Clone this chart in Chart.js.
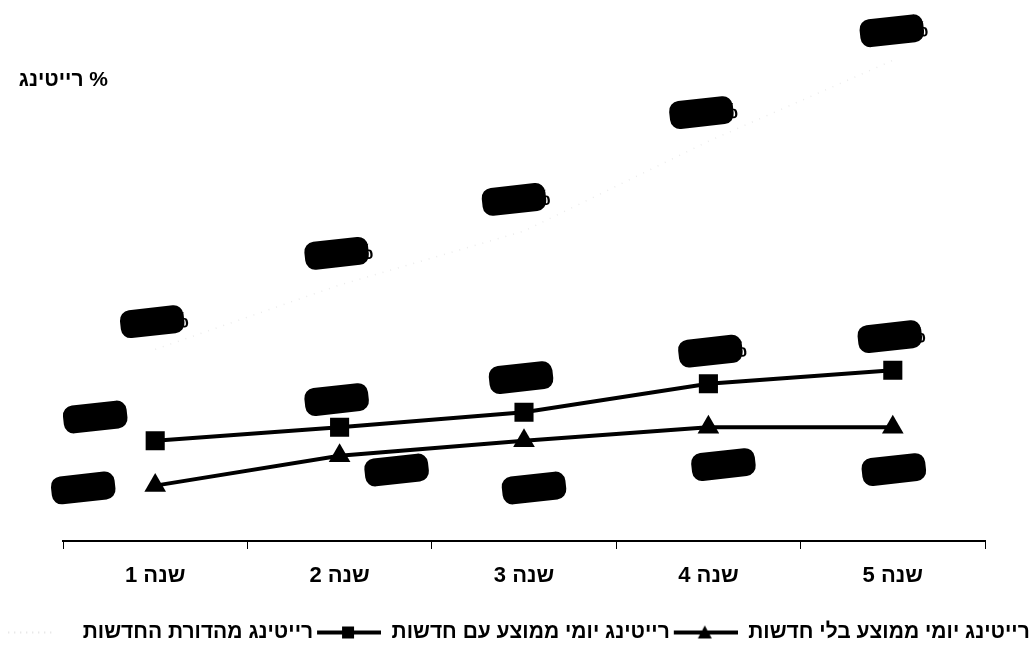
<!DOCTYPE html>
<html><head><meta charset="utf-8">
<script src="https://cdn.jsdelivr.net/npm/chart.js@4"></script>
<style>html,body{margin:0;padding:0;background:#fff}#wrap{width:1036px;height:653px}</style>
</head><body><div id="wrap"><canvas id="c" dir="rtl" width="1036" height="653"></canvas></div>
<script>
const categories = ['שנה 1','שנה 2','שנה 3','שנה 4','שנה 5'];
const newsBroadcast = [12.8, 17.1, 20.7, 26.7, 32.1];
const withNews = [6.7, 7.6, 8.6, 10.5, 11.4];
const withoutNews = [3.7, 5.7, 6.7, 7.6, 7.6];
const seriesNames = ['רייטינג מהדורת החדשות','רייטינג יומי ממוצע עם חדשות','רייטינג יומי ממוצע בלי חדשות'];
const yTitle = '% רייטינג';

const FONT = "'Liberation Sans', Arial, 'DejaVu Sans', sans-serif";

// label placement relative to each point (style, not data)
const labelOffsets = [
  [[0,-28],[0,-32],[-7,-32],[-4,-29],[2,-30]],
  [[-57,-24],[0,-28],[0,-35],[5,-33],[0,-34]],
  [[-69,2],[60,14],[13,47],[18,37],[4,42]]
];

function legendIcon(kind){
  const c = document.createElement('canvas');
  c.width = 66; c.height = 20;
  const g = c.getContext('2d');
  g.translate(0,10);
  if (kind === 0){
    g.strokeStyle = '#d8d8d8'; g.lineWidth = 1.5; g.setLineDash([1,5]);
    g.beginPath(); g.moveTo(2,0); g.lineTo(46,0); g.stroke();
  } else {
    g.strokeStyle = '#000'; g.lineWidth = 4;
    g.beginPath(); g.moveTo(2,0); g.lineTo(66,0); g.stroke();
    g.fillStyle = '#000';
    if (kind === 1){ g.fillRect(27,-6,12,12); }
    else { g.beginPath(); g.moveTo(33,-7); g.lineTo(40,6); g.lineTo(26,6); g.closePath(); g.fill(); }
  }
  return c;
}
const icons = [legendIcon(0), legendIcon(1), legendIcon(2)];

const redactLabels = {
  id: 'redactLabels',
  afterDatasetsDraw(chart){
    const ctx = chart.ctx;
    chart.data.datasets.forEach((ds, i) => {
      const meta = chart.getDatasetMeta(i);
      meta.data.forEach((pt, j) => {
        const off = labelOffsets[i][j];
        const txt = ds.data[j].toFixed(1) + '%';
        ctx.save();
        ctx.translate(pt.x + off[0], pt.y + off[1]);
        ctx.rotate(-0.11);
        ctx.fillStyle = '#000';
        ctx.font = 'bold 22px ' + FONT;
        ctx.textAlign = 'center';
        ctx.textBaseline = 'middle';
        ctx.fillText(txt, 2, 3);
        ctx.beginPath();
        ctx.roundRect(-35, -14, 64, 28, 10);
        ctx.fill();
        ctx.restore();
      });
    });
  }
};

const yTitlePlugin = {
  id: 'yTitlePlugin',
  afterDraw(chart){
    const ctx = chart.ctx;
    ctx.save();
    ctx.direction = 'rtl';
    ctx.fillStyle = '#000';
    ctx.font = 'bold 21px ' + FONT;
    ctx.textAlign = 'right';
    ctx.textBaseline = 'middle';
    ctx.fillText(yTitle, 108, 80);
    ctx.restore();
  }
};

new Chart(document.getElementById('c'), {
  type: 'line',
  data: {
    labels: categories,
    datasets: [
      { label: seriesNames[0], data: newsBroadcast, borderColor: '#ebebeb', borderWidth: 1.5,
        borderDash: [1,7], pointRadius: 0, pointStyle: false, fill: false },
      { label: seriesNames[1], data: withNews, borderColor: '#000', backgroundColor: '#000', borderWidth: 4,
        pointStyle: 'rect', pointRadius: 13.5, pointBorderWidth: 0, pointBackgroundColor: '#000', fill: false },
      { label: seriesNames[2], data: withoutNews, borderColor: '#000', backgroundColor: '#000', borderWidth: 4,
        pointStyle: 'triangle', pointRadius: 12.5, pointBorderWidth: 0, pointBackgroundColor: '#000', fill: false }
    ]
  },
  options: {
    responsive: false,
    animation: false,
    devicePixelRatio: 1,
    layout: { padding: { left: 0, right: 0, top: 17, bottom: 0 } },
    scales: {
      x: {
        type: 'category',
        offset: true,
        grid: { offset: true, drawOnChartArea: false, drawTicks: true, tickLength: 8, color: '#000', lineWidth: 1 },
        border: { display: true, color: '#000', width: 2 },
        ticks: { color: '#000', font: { size: 22, weight: 'bold', family: FONT }, padding: 14, maxRotation: 0 },
        afterFit(scale){ scale.height = 79; }
      },
      y: {
        position: 'left', min: 0, max: 35,
        grid: { display: false }, border: { display: false }, ticks: { display: false },
        afterFit(scale){ scale.width = 63; }
      },
      yRight: {
        position: 'right', min: 0, max: 35,
        grid: { display: false }, border: { display: false }, ticks: { display: false },
        afterFit(scale){ scale.width = 51; }
      }
    },
    plugins: {
      tooltip: { enabled: false },
      legend: {
        position: 'bottom',
        labels: {
          color: '#000',
          font: { size: 21, weight: 'bold', family: FONT },
          usePointStyle: true,
          pointStyleWidth: 66,
          boxHeight: 17,
          padding: 2,
          generateLabels(chart){
            const items = Chart.defaults.plugins.legend.labels.generateLabels(chart);
            items.forEach((it, k) => { it.pointStyle = icons[k]; });
            return items;
          }
        }
      }
    }
  },
  plugins: [redactLabels, yTitlePlugin]
});
</script>
</body></html>
